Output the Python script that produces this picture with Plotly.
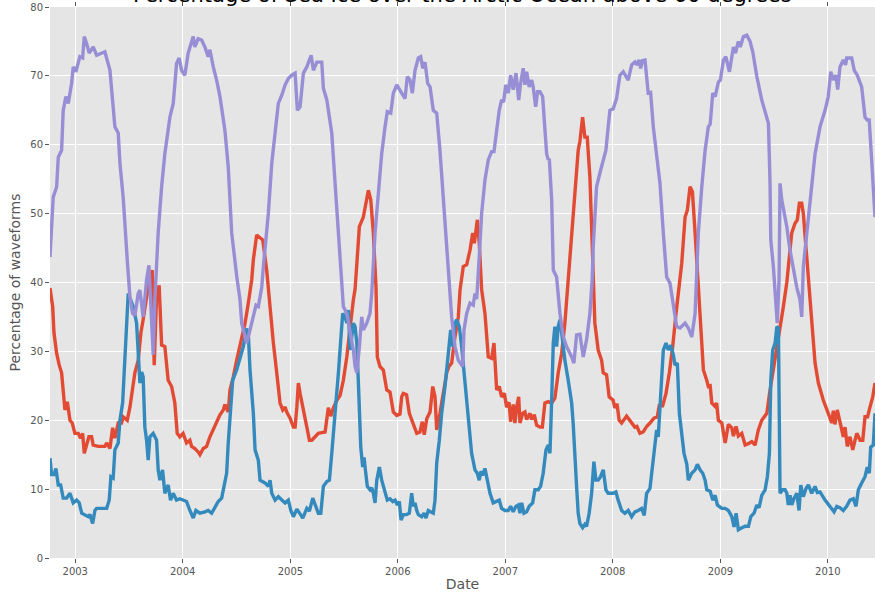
import plotly.graph_objects as go
from datetime import datetime

# Sample times are stored as decimal years; values are percentages of waveforms.
red_years = [
    2002.765, 2002.790, 2002.802, 2002.827, 2002.851, 2002.873, 2002.904, 2002.926, 2002.951, 2002.972,
    2002.997, 2003.028, 2003.050, 2003.069, 2003.084, 2003.106, 2003.127, 2003.152, 2003.167, 2003.214,
    2003.276, 2003.292, 2003.323, 2003.348, 2003.369, 2003.400, 2003.431, 2003.446, 2003.484, 2003.509,
    2003.534, 2003.555, 2003.586, 2003.611, 2003.632, 2003.658, 2003.679, 2003.716, 2003.735, 2003.757,
    2003.781, 2003.804, 2003.834, 2003.865, 2003.897, 2003.927, 2003.949, 2003.974, 2004.004, 2004.036,
    2004.067, 2004.083, 2004.113, 2004.144, 2004.160, 2004.191, 2004.222, 2004.253, 2004.284, 2004.315,
    2004.346, 2004.377, 2004.392, 2004.408, 2004.423, 2004.439, 2004.470, 2004.501, 2004.548, 2004.579,
    2004.609, 2004.641, 2004.656, 2004.687, 2004.718, 2004.743, 2004.780, 2004.811, 2004.842, 2004.873,
    2004.904, 2004.929, 2004.951, 2004.966, 2004.997, 2005.028, 2005.044, 2005.060, 2005.074, 2005.090,
    2005.121, 2005.153, 2005.177, 2005.199, 2005.230, 2005.260, 2005.292, 2005.323, 2005.353, 2005.376,
    2005.400, 2005.432, 2005.462, 2005.493, 2005.525, 2005.555, 2005.586, 2005.602, 2005.642, 2005.679,
    2005.711, 2005.726, 2005.748, 2005.772, 2005.797, 2005.809, 2005.834, 2005.865, 2005.897, 2005.927,
    2005.958, 2005.990, 2006.020, 2006.036, 2006.051, 2006.081, 2006.107, 2006.144, 2006.176, 2006.206,
    2006.228, 2006.246, 2006.269, 2006.300, 2006.325, 2006.346, 2006.362, 2006.392, 2006.423, 2006.455,
    2006.476, 2006.501, 2006.532, 2006.563, 2006.579, 2006.609, 2006.641, 2006.672, 2006.697, 2006.712,
    2006.740, 2006.758, 2006.780, 2006.811, 2006.842, 2006.873, 2006.895, 2006.920, 2006.944, 2006.966,
    2006.991, 2007.013, 2007.035, 2007.050, 2007.074, 2007.090, 2007.106, 2007.125, 2007.137, 2007.162,
    2007.183, 2007.199, 2007.230, 2007.246, 2007.270, 2007.292, 2007.323, 2007.345, 2007.369, 2007.400,
    2007.431, 2007.462, 2007.493, 2007.525, 2007.555, 2007.586, 2007.618, 2007.648, 2007.679, 2007.695,
    2007.720, 2007.741, 2007.763, 2007.788, 2007.804, 2007.819, 2007.834, 2007.865, 2007.897, 2007.912,
    2007.943, 2007.967, 2008.004, 2008.020, 2008.040, 2008.060, 2008.083, 2008.129, 2008.160, 2008.185,
    2008.206, 2008.225, 2008.253, 2008.283, 2008.315, 2008.346, 2008.383, 2008.414, 2008.432, 2008.464,
    2008.495, 2008.526, 2008.557, 2008.588, 2008.619, 2008.641, 2008.672, 2008.693, 2008.718, 2008.740,
    2008.765, 2008.795, 2008.811, 2008.842, 2008.873, 2008.888, 2008.905, 2008.920, 2008.951, 2008.965,
    2008.981, 2009.013, 2009.044, 2009.074, 2009.106, 2009.121, 2009.146, 2009.167, 2009.199, 2009.230,
    2009.260, 2009.292, 2009.323, 2009.353, 2009.385, 2009.432, 2009.462, 2009.493, 2009.525, 2009.555,
    2009.586, 2009.618, 2009.642, 2009.664, 2009.695, 2009.716, 2009.735, 2009.757, 2009.772, 2009.797,
    2009.819, 2009.850, 2009.881, 2009.912, 2009.958, 2010.004, 2010.036, 2010.051, 2010.066, 2010.088,
    2010.113, 2010.144, 2010.160, 2010.181, 2010.206, 2010.232, 2010.253, 2010.270, 2010.300, 2010.325,
    2010.346, 2010.370, 2010.392, 2010.418, 2010.439,
]
red_values = [
    39.2, 36.5, 32.7, 29.7, 28.0, 26.9, 21.5, 22.7, 20.0, 19.6,
    18.1, 18.1, 17.4, 18.1, 15.2, 16.7, 17.6, 17.6, 16.4, 16.2,
    16.2, 16.7, 15.9, 18.9, 17.4, 19.6, 19.6, 20.5, 20.0, 21.9,
    24.4, 26.9, 28.7, 32.7, 34.6, 37.5, 39.3, 41.8, 28.0, 37.9,
    39.6, 30.9, 30.7, 25.8, 24.9, 22.5, 18.1, 17.6, 18.1, 16.7,
    17.1, 16.2, 15.9, 15.4, 15.0, 15.9, 16.2, 17.6, 18.6, 19.6,
    20.8, 21.5, 22.3, 21.7, 21.2, 24.4, 26.3, 28.7, 32.1, 34.1,
    37.0, 40.4, 43.3, 46.9, 46.5, 46.2, 41.8, 36.0, 31.2, 26.9,
    22.5, 21.5, 21.9, 21.2, 20.3, 19.0, 19.0, 21.9, 25.4, 23.9,
    21.2, 19.0, 17.1, 17.1, 17.6, 18.1, 18.2, 18.3, 21.8, 20.6,
    21.8, 22.9, 23.6, 25.8, 29.2, 33.6, 37.5, 39.0, 48.1, 49.5,
    52.4, 53.4, 52.0, 47.2, 39.3, 29.2, 27.8, 27.3, 24.4, 24.1,
    21.2, 20.7, 20.9, 23.4, 23.9, 23.7, 21.0, 19.6, 18.1, 18.3,
    19.8, 17.9, 20.2, 21.2, 24.9, 23.4, 18.6, 21.0, 23.9, 26.9,
    27.8, 28.3, 32.1, 35.0, 38.9, 42.3, 42.6, 44.7, 47.2, 45.7,
    49.1, 45.7, 39.0, 35.5, 29.2, 29.0, 31.2, 24.4, 24.9, 23.4,
    23.9, 21.9, 22.6, 19.8, 22.3, 19.6, 21.9, 23.4, 19.6, 21.0,
    21.2, 20.1, 21.0, 20.1, 20.8, 19.3, 19.0, 19.0, 22.5, 22.7,
    22.5, 23.2, 26.9, 29.7, 34.1, 40.0, 46.2, 52.9, 59.2, 60.5,
    64.0, 61.1, 61.1, 55.3, 47.2, 39.5, 34.1, 30.2, 28.7, 26.9,
    26.6, 23.4, 22.9, 21.8, 22.4, 20.0, 19.6, 20.6, 20.0, 19.4,
    19.0, 19.1, 18.1, 18.3, 19.1, 19.6, 20.3, 20.5, 22.1, 22.1,
    23.9, 26.9, 30.7, 35.5, 40.4, 42.8, 49.5, 50.5, 53.9, 53.2,
    47.2, 39.5, 34.6, 27.3, 25.8, 24.9, 25.0, 22.5, 22.0, 22.5,
    20.0, 19.6, 16.7, 19.4, 18.9, 17.7, 19.1, 17.7, 18.1, 16.4,
    16.6, 16.9, 16.4, 18.6, 20.0, 21.0, 24.4, 27.3, 30.7, 33.1,
    36.5, 40.0, 43.3, 47.2, 48.6, 49.1, 51.5, 51.5, 50.0, 44.7,
    40.2, 34.1, 28.3, 25.4, 22.9, 21.0, 19.6, 21.4, 19.4, 21.5,
    19.6, 17.6, 19.0, 16.2, 17.6, 15.7, 17.1, 18.1, 17.1, 17.1,
    20.5, 20.5, 21.9, 23.4, 25.4,
]

blue_years = [
    2002.765, 2002.780, 2002.802, 2002.820, 2002.842, 2002.864, 2002.888, 2002.920, 2002.951, 2002.981,
    2003.013, 2003.037, 2003.060, 2003.090, 2003.121, 2003.137, 2003.162, 2003.183, 2003.199, 2003.245,
    2003.292, 2003.316, 2003.332, 2003.353, 2003.369, 2003.400, 2003.416, 2003.441, 2003.462, 2003.478,
    2003.493, 2003.515, 2003.540, 2003.571, 2003.592, 2003.602, 2003.618, 2003.632, 2003.648, 2003.664,
    2003.679, 2003.695, 2003.726, 2003.757, 2003.772, 2003.788, 2003.813, 2003.834, 2003.865, 2003.887,
    2003.912, 2003.943, 2003.974, 2004.004, 2004.036, 2004.067, 2004.098, 2004.123, 2004.160, 2004.206,
    2004.237, 2004.269, 2004.300, 2004.330, 2004.362, 2004.383, 2004.408, 2004.423, 2004.446, 2004.464,
    2004.501, 2004.532, 2004.563, 2004.594, 2004.609, 2004.625, 2004.656, 2004.672, 2004.702, 2004.718,
    2004.764, 2004.795, 2004.811, 2004.827, 2004.858, 2004.888, 2004.920, 2004.951, 2004.981, 2005.004,
    2005.028, 2005.060, 2005.090, 2005.115, 2005.153, 2005.177, 2005.208, 2005.230, 2005.260, 2005.283,
    2005.307, 2005.339, 2005.363, 2005.385, 2005.416, 2005.447, 2005.469, 2005.487, 2005.509, 2005.525,
    2005.540, 2005.555, 2005.571, 2005.586, 2005.602, 2005.618, 2005.632, 2005.642, 2005.655, 2005.673,
    2005.686, 2005.698, 2005.716, 2005.741, 2005.757, 2005.772, 2005.788, 2005.804, 2005.828, 2005.850,
    2005.881, 2005.902, 2005.927, 2005.953, 2005.974, 2005.995, 2006.014, 2006.030, 2006.051, 2006.081,
    2006.107, 2006.129, 2006.144, 2006.160, 2006.176, 2006.191, 2006.222, 2006.244, 2006.262, 2006.284,
    2006.305, 2006.330, 2006.346, 2006.362, 2006.386, 2006.408, 2006.439, 2006.470, 2006.492, 2006.511,
    2006.532, 2006.548, 2006.572, 2006.594, 2006.625, 2006.656, 2006.687, 2006.718, 2006.740, 2006.758,
    2006.774, 2006.789, 2006.811, 2006.833, 2006.858, 2006.888, 2006.919, 2006.944, 2006.966, 2006.997,
    2007.028, 2007.050, 2007.074, 2007.099, 2007.121, 2007.137, 2007.153, 2007.174, 2007.199, 2007.223,
    2007.255, 2007.276, 2007.307, 2007.329, 2007.353, 2007.379, 2007.400, 2007.416, 2007.432, 2007.447,
    2007.462, 2007.478, 2007.493, 2007.509, 2007.525, 2007.555, 2007.586, 2007.618, 2007.632, 2007.648,
    2007.664, 2007.679, 2007.695, 2007.720, 2007.741, 2007.757, 2007.781, 2007.804, 2007.825, 2007.844,
    2007.865, 2007.887, 2007.912, 2007.937, 2007.958, 2008.004, 2008.030, 2008.051, 2008.083, 2008.113,
    2008.144, 2008.176, 2008.206, 2008.237, 2008.268, 2008.293, 2008.315, 2008.346, 2008.371, 2008.408,
    2008.423, 2008.439, 2008.455, 2008.470, 2008.495, 2008.516, 2008.539, 2008.563, 2008.579, 2008.600,
    2008.619, 2008.641, 2008.662, 2008.688, 2008.702, 2008.734, 2008.765, 2008.786, 2008.811, 2008.836,
    2008.858, 2008.873, 2008.905, 2008.929, 2008.951, 2008.972, 2009.013, 2009.044, 2009.074, 2009.106,
    2009.127, 2009.146, 2009.167, 2009.199, 2009.230, 2009.261, 2009.283, 2009.313, 2009.339, 2009.360,
    2009.385, 2009.416, 2009.437, 2009.456, 2009.469, 2009.487, 2009.509, 2009.525, 2009.540, 2009.555,
    2009.580, 2009.602, 2009.618, 2009.632, 2009.648, 2009.664, 2009.686, 2009.711, 2009.732, 2009.748,
    2009.772, 2009.797, 2009.819, 2009.850, 2009.881, 2009.902, 2009.927, 2009.974, 2010.020, 2010.058,
    2010.083, 2010.113, 2010.144, 2010.175, 2010.206, 2010.237, 2010.262, 2010.284, 2010.315, 2010.346,
    2010.367, 2010.386, 2010.399, 2010.423, 2010.439,
]
blue_values = [
    14.5, 12.1, 12.1, 13.0, 10.6, 10.6, 8.7, 8.7, 9.4, 8.0,
    8.4, 8.0, 6.5, 6.3, 6.0, 6.3, 5.0, 6.9, 7.2, 7.2,
    7.2, 8.4, 11.8, 11.6, 15.7, 16.7, 20.0, 22.5, 28.7, 35.5,
    38.4, 37.5, 36.5, 34.1, 28.3, 25.4, 27.0, 26.3, 19.0, 17.1,
    14.2, 17.6, 18.1, 17.1, 12.8, 11.3, 12.8, 9.4, 10.6, 8.4,
    9.4, 8.4, 8.6, 8.4, 8.2, 6.9, 5.8, 6.9, 6.5, 6.7,
    6.9, 6.5, 7.5, 8.2, 8.7, 10.4, 12.3, 16.7, 21.9, 25.8,
    27.3, 29.2, 30.7, 33.3, 32.7, 27.3, 21.0, 15.7, 14.2, 11.3,
    10.9, 10.4, 11.3, 9.4, 8.4, 8.9, 8.4, 8.0, 8.4, 6.9,
    6.0, 7.1, 6.4, 5.8, 7.2, 6.8, 8.7, 7.7, 6.5, 6.5,
    10.4, 11.1, 11.3, 15.2, 20.5, 26.9, 31.7, 35.5, 35.0, 34.1,
    36.0, 30.2, 32.1, 34.1, 33.6, 31.2, 25.8, 21.0, 16.1, 13.2,
    14.6, 12.8, 10.4, 9.9, 10.2, 9.4, 8.0, 11.3, 13.2, 11.3,
    9.4, 8.4, 8.6, 8.2, 8.4, 7.7, 8.2, 5.5, 6.3, 6.3,
    6.5, 9.4, 7.5, 8.0, 6.9, 6.3, 6.0, 6.5, 5.8, 6.9,
    6.7, 6.5, 8.4, 13.8, 17.1, 21.0, 24.9, 29.2, 33.1, 30.7,
    34.1, 34.6, 33.6, 30.7, 25.8, 20.0, 15.2, 12.8, 12.3, 11.3,
    12.6, 12.0, 13.0, 11.3, 9.4, 8.0, 8.2, 8.4, 7.2, 6.9,
    6.9, 7.5, 6.7, 7.5, 7.7, 6.5, 8.0, 6.5, 6.7, 7.5,
    8.0, 9.9, 9.9, 10.4, 12.3, 15.7, 16.4, 15.2, 22.9, 31.2,
    33.6, 30.7, 33.6, 34.6, 32.7, 28.7, 25.8, 22.5, 19.6, 14.2,
    10.4, 6.5, 5.0, 4.4, 4.9, 4.6, 6.5, 9.4, 14.0, 11.3,
    11.3, 11.8, 12.8, 9.9, 9.4, 9.4, 9.6, 8.4, 6.9, 6.5,
    6.9, 6.0, 6.7, 6.9, 7.2, 6.2, 9.4, 10.1, 13.2, 18.6,
    17.6, 21.5, 25.8, 30.2, 31.2, 30.2, 30.9, 29.5, 28.0, 28.3,
    21.0, 18.1, 15.2, 13.6, 11.3, 12.3, 12.8, 13.6, 12.8, 12.3,
    11.3, 9.9, 9.7, 8.4, 9.1, 7.7, 7.2, 7.2, 6.9, 6.0,
    4.5, 6.5, 4.1, 4.4, 4.6, 4.6, 6.0, 6.5, 7.7, 7.3,
    9.1, 9.9, 11.8, 15.2, 25.8, 30.2, 31.2, 33.6, 33.4, 9.4,
    9.9, 9.9, 9.4, 7.7, 9.1, 7.7, 8.7, 9.4, 6.9, 10.6,
    8.9, 10.1, 10.6, 9.4, 10.4, 9.5, 9.6, 8.4, 7.5, 6.7,
    7.5, 7.3, 6.9, 7.5, 8.4, 8.6, 7.5, 9.9, 10.9, 11.8,
    13.2, 12.3, 16.1, 16.4, 21.0,
]

purple_years = [
    2002.765, 2002.795, 2002.827, 2002.842, 2002.873, 2002.888, 2002.913, 2002.935, 2002.966, 2002.981,
    2003.006, 2003.043, 2003.069, 2003.084, 2003.106, 2003.130, 2003.167, 2003.199, 2003.276, 2003.323,
    2003.369, 2003.400, 2003.416, 2003.446, 2003.484, 2003.509, 2003.534, 2003.555, 2003.586, 2003.602,
    2003.632, 2003.664, 2003.686, 2003.726, 2003.741, 2003.772, 2003.804, 2003.834, 2003.881, 2003.912,
    2003.943, 2003.967, 2003.990, 2004.020, 2004.051, 2004.098, 2004.113, 2004.144, 2004.176, 2004.206,
    2004.237, 2004.253, 2004.284, 2004.315, 2004.346, 2004.392, 2004.423, 2004.455, 2004.501, 2004.532,
    2004.548, 2004.594, 2004.625, 2004.656, 2004.681, 2004.702, 2004.734, 2004.749, 2004.795, 2004.827,
    2004.858, 2004.888, 2004.920, 2004.951, 2004.981, 2005.013, 2005.044, 2005.065, 2005.090, 2005.121,
    2005.153, 2005.193, 2005.214, 2005.246, 2005.292, 2005.307, 2005.339, 2005.385, 2005.416, 2005.447,
    2005.478, 2005.493, 2005.525, 2005.555, 2005.586, 2005.602, 2005.618, 2005.642, 2005.664, 2005.679,
    2005.711, 2005.741, 2005.757, 2005.788, 2005.819, 2005.850, 2005.881, 2005.902, 2005.934, 2005.958,
    2005.990, 2006.020, 2006.067, 2006.088, 2006.113, 2006.135, 2006.160, 2006.191, 2006.213, 2006.232,
    2006.253, 2006.278, 2006.300, 2006.330, 2006.362, 2006.392, 2006.423, 2006.455, 2006.486, 2006.501,
    2006.532, 2006.563, 2006.604, 2006.616, 2006.641, 2006.672, 2006.702, 2006.718, 2006.734, 2006.745,
    2006.760, 2006.780, 2006.811, 2006.842, 2006.873, 2006.895, 2006.920, 2006.944, 2006.966, 2006.985,
    2007.004, 2007.028, 2007.050, 2007.074, 2007.100, 2007.125, 2007.143, 2007.167, 2007.183, 2007.199,
    2007.223, 2007.246, 2007.260, 2007.283, 2007.301, 2007.323, 2007.348, 2007.369, 2007.385, 2007.400,
    2007.410, 2007.432, 2007.447, 2007.478, 2007.493, 2007.509, 2007.540, 2007.571, 2007.618, 2007.639,
    2007.664, 2007.695, 2007.726, 2007.757, 2007.788, 2007.809, 2007.819, 2007.850, 2007.881, 2007.912,
    2007.937, 2007.958, 2007.974, 2008.004, 2008.036, 2008.067, 2008.098, 2008.144, 2008.176, 2008.206,
    2008.225, 2008.244, 2008.260, 2008.275, 2008.300, 2008.330, 2008.352, 2008.377, 2008.414, 2008.439,
    2008.470, 2008.501, 2008.532, 2008.563, 2008.594, 2008.625, 2008.672, 2008.702, 2008.734, 2008.765,
    2008.780, 2008.795, 2008.827, 2008.858, 2008.888, 2008.905, 2008.929, 2008.951, 2008.981, 2009.000,
    2009.028, 2009.050, 2009.084, 2009.121, 2009.140, 2009.167, 2009.185, 2009.214, 2009.246, 2009.276,
    2009.301, 2009.339, 2009.385, 2009.416, 2009.447, 2009.462, 2009.469, 2009.493, 2009.520, 2009.529,
    2009.546, 2009.555, 2009.571, 2009.592, 2009.618, 2009.648, 2009.679, 2009.711, 2009.741, 2009.757,
    2009.772, 2009.819, 2009.850, 2009.881, 2009.927, 2009.974, 2010.004, 2010.027, 2010.051, 2010.075,
    2010.092, 2010.113, 2010.144, 2010.165, 2010.176, 2010.222, 2010.246, 2010.274, 2010.315, 2010.346,
    2010.367, 2010.385, 2010.408, 2010.439,
]
purple_values = [
    43.7, 52.4, 53.9, 58.2, 59.2, 65.0, 67.0, 66.0, 68.9, 71.3,
    70.6, 72.8, 72.6, 75.7, 74.7, 73.3, 74.2, 73.0, 73.5, 70.8,
    62.6, 61.7, 57.3, 52.4, 43.3, 37.9, 35.5, 35.2, 38.4, 38.9,
    35.0, 40.4, 42.5, 29.5, 37.5, 47.2, 53.9, 58.7, 64.0, 66.0,
    71.8, 72.6, 70.8, 70.1, 73.3, 75.7, 74.2, 75.4, 75.2, 74.2,
    72.8, 73.8, 71.3, 69.4, 67.0, 62.1, 56.8, 47.2, 41.0, 37.5,
    34.1, 31.2, 33.1, 35.0, 36.7, 36.5, 39.3, 42.3, 50.0, 57.3,
    62.1, 66.0, 67.2, 68.7, 69.6, 70.1, 70.4, 65.0, 65.5, 70.4,
    71.3, 73.0, 70.8, 72.0, 72.0, 68.2, 66.5, 61.7, 54.4, 47.2,
    40.0, 36.5, 35.5, 32.7, 30.2, 27.8, 26.9, 30.7, 35.0, 33.1,
    34.1, 35.5, 38.4, 47.2, 52.9, 58.7, 62.6, 64.8, 64.6, 67.5,
    68.7, 68.0, 66.7, 69.9, 69.4, 67.5, 70.8, 72.6, 72.8, 71.1,
    72.0, 68.9, 68.4, 65.0, 64.6, 59.2, 52.0, 44.7, 38.9, 35.0,
    30.7, 28.7, 27.8, 33.1, 35.5, 37.0, 36.7, 38.4, 37.6, 39.9,
    44.3, 50.0, 54.9, 57.8, 59.0, 59.0, 62.6, 65.0, 66.5, 66.2,
    68.7, 67.5, 70.1, 68.0, 70.4, 66.5, 68.9, 71.1, 68.7, 70.6,
    68.4, 69.4, 68.4, 65.5, 67.7, 67.7, 67.0, 62.6, 58.7, 57.8,
    58.0, 52.0, 41.8, 40.8, 38.5, 35.5, 32.1, 30.7, 29.2, 28.3,
    32.4, 32.5, 29.2, 31.7, 35.5, 40.4, 45.2, 53.9, 55.9, 57.8,
    59.2, 62.6, 65.0, 65.2, 66.7, 70.1, 70.6, 69.4, 71.6, 72.0,
    71.6, 72.3, 71.1, 72.2, 72.3, 67.5, 67.6, 62.6, 57.3, 54.4,
    47.2, 40.8, 39.9, 36.5, 33.6, 33.4, 34.1, 33.4, 32.1, 35.5,
    40.4, 47.2, 53.9, 59.2, 62.6, 63.0, 67.5, 67.0, 69.1, 69.4,
    72.3, 72.8, 70.6, 74.2, 73.3, 75.0, 74.2, 75.7, 75.9, 75.0,
    73.5, 69.9, 66.5, 64.6, 63.1, 54.4, 46.2, 42.3, 36.0, 34.1,
    40.4, 54.4, 52.0, 50.5, 48.1, 44.7, 41.8, 39.3, 37.5, 35.0,
    42.3, 49.5, 53.4, 58.7, 62.6, 65.0, 67.0, 70.6, 69.4, 70.1,
    68.0, 71.3, 72.3, 71.6, 72.6, 72.6, 70.8, 70.1, 68.4, 64.0,
    63.6, 63.6, 57.8, 49.5,
]

year_ticks = [2003, 2004, 2005, 2006, 2007, 2008, 2009, 2010]

series = [
    ("red", red_years, red_values, "#E24A33"),
    ("blue", blue_years, blue_values, "#348ABD"),
    ("purple", purple_years, purple_values, "#988ED5"),
]


def to_datetime(decimal_year):
    whole = int(decimal_year)
    start = datetime(whole, 1, 1)
    end = datetime(whole + 1, 1, 1)
    return start + (end - start) * (decimal_year - whole)


fig = go.Figure()
for name, years, values, colour in series:
    fig.add_trace(go.Scatter(
        x=[to_datetime(y) for y in years],
        y=values,
        mode="lines",
        name=name,
        line=dict(color=colour, width=3.4),
        showlegend=False,
    ))

all_years = red_years + blue_years + purple_years
x_start = to_datetime(min(all_years))
x_end = to_datetime(max(all_years))

axis_font = dict(family="DejaVu Sans", size=10, color="#555555")
title_font = dict(family="DejaVu Sans", size=14, color="#555555")

fig.update_layout(
    width=875,
    height=592,
    margin=dict(l=50, r=0, t=7, b=34),
    paper_bgcolor="white",
    plot_bgcolor="#E5E5E5",
    font=dict(family="DejaVu Sans"),
    xaxis=dict(
        type="date",
        range=[x_start, x_end],
        tickvals=[datetime(y, 1, 1) for y in year_ticks],
        ticktext=[str(y) for y in year_ticks],
        ticks="outside",
        ticklen=4,
        tickwidth=1,
        tickcolor="#555555",
        mirror="ticks",
        showline=False,
        showgrid=True,
        gridcolor="white",
        gridwidth=1,
        zeroline=False,
        tickfont=axis_font,
        title=dict(text="Date", font=title_font, standoff=5),
    ),
    yaxis=dict(
        range=[0, 80],
        tickvals=[0, 10, 20, 30, 40, 50, 60, 70, 80],
        ticks="outside",
        ticklen=4,
        tickwidth=1,
        tickcolor="#555555",
        showline=False,
        showgrid=True,
        gridcolor="white",
        gridwidth=1,
        zeroline=False,
        tickfont=axis_font,
        title=dict(text="Percentage of waveforms", font=title_font, standoff=6),
    ),
    annotations=[dict(
        text="Percentage of Sea Ice over the Arctic Ocean above 60 degrees",
        xref="paper", yref="paper", x=0.5, y=1,
        xanchor="center", yanchor="bottom", yshift=-2,
        showarrow=False,
        font=dict(family="DejaVu Sans", size=21, color="black"),
    )],
)

fig.write_html("out.html")
